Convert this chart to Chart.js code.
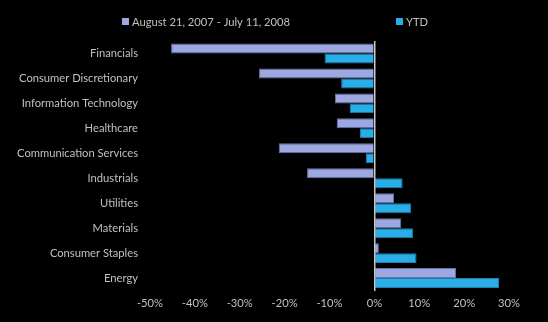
<!DOCTYPE html>
<html>
<head>
<meta charset="utf-8">
<script src="https://cdn.jsdelivr.net/npm/chart.js@4/dist/chart.umd.min.js"></script>
<style>
  html, body { margin: 0; padding: 0; background: #000; }
  #wrap { width: 548px; height: 322px; }
</style>
</head>
<body>
<div id="wrap"><canvas id="sectorChart"></canvas></div>
<script>
const sectors = [
  "Financials",
  "Consumer Discretionary",
  "Information Technology",
  "Healthcare",
  "Communication Services",
  "Industrials",
  "Utilities",
  "Materials",
  "Consumer Staples",
  "Energy"
];
const sinceAug2007 = [-45.3, -25.7, -8.8, -8.4, -21.3, -15.0, 4.4, 6.0, 1.0, 18.2];
const ytd = [-11.1, -7.4, -5.5, -3.2, -1.9, 6.3, 8.2, 8.6, 9.4, 27.8];
const xTicks = [-50, -40, -30, -20, -10, 0, 10, 20, 30];

const textColor = "#c0c0c0";
const fontFamily = "Lato, 'Open Sans', sans-serif";
const fontSize = 11.2;

// legend drawn by hand: the two items sit far apart in the original
const spreadLegend = {
  id: "spreadLegend",
  afterDraw(chart) {
    const ctx = chart.ctx;
    const starts = [122, 396];
    ctx.save();
    ctx.font = fontSize + "px " + fontFamily;
    ctx.textBaseline = "middle";
    chart.data.datasets.forEach((ds, i) => {
      const x = starts[i];
      const y = 22;
      ctx.fillStyle = ds.backgroundColor;
      ctx.fillRect(x, y - 4, 7, 7);
      ctx.fillStyle = textColor;
      ctx.fillText(ds.label, x + 10, y);
    });
    ctx.restore();
  }
};

new Chart(document.getElementById("sectorChart"), {
  type: "bar",
  data: {
    labels: sectors,
    datasets: [
      {
        label: "August 21, 2007 - July 11, 2008",
        data: sinceAug2007,
        backgroundColor: "#9ea8e0",
        borderColor: "#6a73ad",
        borderWidth: 1,
        borderSkipped: "start"
      },
      {
        label: "YTD",
        data: ytd,
        backgroundColor: "#2aaee8",
        borderColor: "#1f7fb0",
        borderWidth: 1,
        borderSkipped: "start"
      }
    ]
  },
  options: {
    indexAxis: "y",
    responsive: true,
    maintainAspectRatio: false,
    animation: false,
    layout: { padding: { left: 0, right: 39, top: 41, bottom: 6 } },
    plugins: {
      legend: { display: false },
      tooltip: { enabled: false }
    },
    datasets: {
      bar: { categoryPercentage: 0.8, barPercentage: 1.0 }
    },
    scales: {
      x: {
        min: -50,
        max: 30,
        afterBuildTicks: (scale) => {
          scale.ticks = xTicks.map((v) => ({ value: v }));
        },
        ticks: {
          color: textColor,
          font: { family: fontFamily, size: fontSize },
          maxRotation: 0,
          padding: 6,
          callback: (v) => v + "%"
        },
        grid: {
          drawTicks: false,
          z: 1,
          color: (ctx) => (ctx.tick && ctx.tick.value === 0 ? "#c8c8c8" : "rgba(0,0,0,0)"),
          lineWidth: 1.5
        },
        border: { display: false }
      },
      y: {
        afterFit: (scale) => { scale.width = 150; },
        ticks: {
          autoSkip: false,
          color: textColor,
          font: { family: fontFamily, size: fontSize },
          padding: 12
        },
        grid: { display: false, drawTicks: false },
        border: { display: false }
      }
    }
  },
  plugins: [spreadLegend]
});
</script>
</body>
</html>
